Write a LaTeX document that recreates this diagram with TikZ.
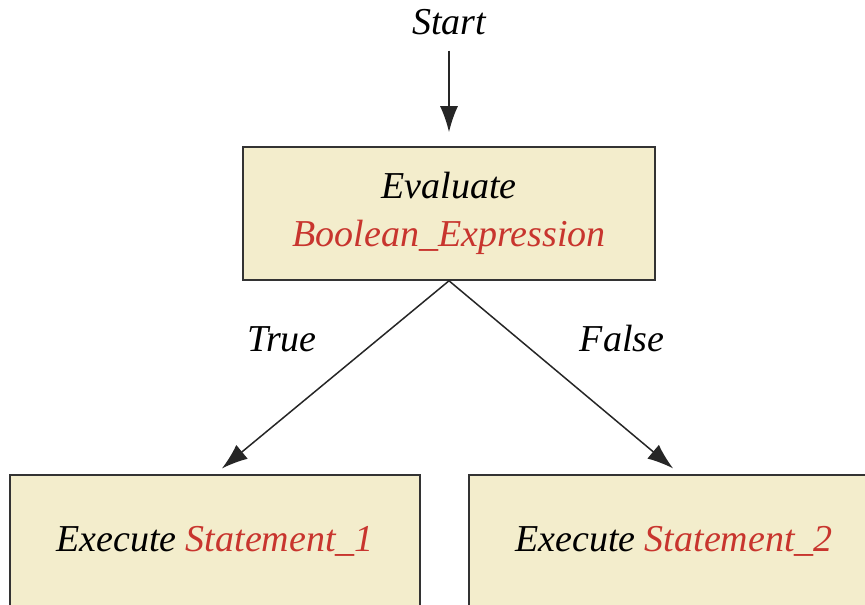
\documentclass[tikz,border=0pt]{standalone}
\usepackage{fontspec}
\setmainfont{Liberation Serif}
\usetikzlibrary{arrows.meta}
\definecolor{boxfill}{HTML}{F3EDCC}
\definecolor{exprred}{HTML}{C8352E}
\definecolor{edge}{HTML}{333333}
\begin{document}
\begin{tikzpicture}[x=1pt,y=1pt,
    font=\fontsize{38}{48}\selectfont\itshape,
    box/.style={draw=edge,line width=1.6pt,fill=boxfill,inner sep=0pt,
      minimum height=133pt,align=center},
    lbl/.style={inner sep=0pt,anchor=base},
    flow/.style={-{Latex[length=26pt,width=18pt]},line width=1.5pt,draw=black!85}]
  \useasboundingbox (0,0) rectangle (865,605);
  \clip (0,0) rectangle (865,605);
  \node[lbl] (start) at (449,570) {Start};
  \node[box,minimum width=412pt] (eval) at (449,391.5)
    {Evaluate\\\textcolor{exprred}{Boolean\_Expression}};
  \node[lbl] (true) at (282,253) {True};
  \node[lbl] (false) at (622,253) {False};
  \node[box,minimum width=410pt] (exec1) at (215,63.5)
    {Execute \textcolor{exprred}{Statement\_1}};
  \node[box,minimum width=410pt] (exec2) at (674,63.5)
    {Execute \textcolor{exprred}{Statement\_2}};
  \draw[flow,shorten <=15pt,shorten >=14pt] (start.south) -- (eval.north);
  \draw[flow,shorten >=9pt] (eval.south) -- (exec1.north);
  \draw[flow,shorten >=9pt] (eval.south) -- ([xshift=6pt]exec2.north);
\end{tikzpicture}
\end{document}
